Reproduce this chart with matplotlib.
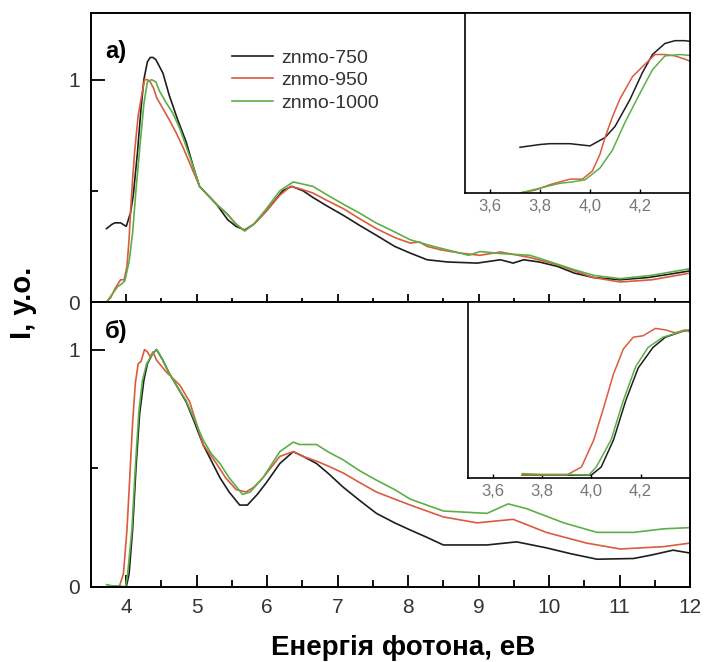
import matplotlib.pyplot as plt
from matplotlib.ticker import MultipleLocator, FuncFormatter

plt.rcParams['font.family'] = ['Liberation Sans', 'DejaVu Sans']

labels = ['znmo-750', 'znmo-950', 'znmo-1000']
colors = ['#1e1e1e', '#dc5a3e', '#5caf46']

# panel a)
a750_x = [3.72, 3.76, 3.80, 3.84, 3.92, 4.00, 4.06, 4.10, 4.16, 4.21, 4.25, 4.30, 4.34, 4.38, 4.42,
          4.52, 4.61, 4.73, 4.85, 4.96, 5.04, 5.16, 5.28, 5.44, 5.56, 5.68, 5.81, 5.99, 6.22, 6.35,
          6.51, 6.65, 6.86, 7.08, 7.31, 7.55, 7.81, 8.03, 8.27, 8.56, 8.98, 9.31, 9.49, 9.64, 9.86,
          10.12, 10.36, 10.63, 11.01, 11.40, 11.71, 12.0]
a750_y = [0.33, 0.34, 0.35, 0.356, 0.356, 0.34, 0.40, 0.48, 0.675, 0.87, 1.0, 1.08, 1.10, 1.10, 1.09,
          1.03, 0.93, 0.82, 0.72, 0.60, 0.52, 0.48, 0.44, 0.37, 0.34, 0.324, 0.35, 0.41, 0.50, 0.52,
          0.50, 0.47, 0.43, 0.39, 0.345, 0.30, 0.25, 0.22, 0.19, 0.18, 0.175, 0.19, 0.175, 0.19, 0.18,
          0.16, 0.13, 0.11, 0.10, 0.11, 0.125, 0.14]

a950_x = [3.72, 3.78, 3.84, 3.88, 3.92, 3.97, 4.01, 4.04, 4.06, 4.09, 4.12, 4.17, 4.22, 4.26, 4.30,
          4.34, 4.39, 4.43, 4.52, 4.61, 4.71, 4.80, 4.92, 5.04, 5.16, 5.28, 5.42, 5.56, 5.68, 5.81,
          5.99, 6.18, 6.33, 6.46, 6.65, 6.86, 7.08, 7.31, 7.55, 7.81, 8.03, 8.16, 8.27, 8.46, 8.74,
          9.02, 9.31, 9.73, 10.12, 10.36, 10.63, 11.01, 11.46, 12.0]
a950_y = [0.0, 0.02, 0.06, 0.08, 0.10, 0.10, 0.16, 0.28, 0.40, 0.55, 0.68, 0.84, 0.93, 1.0, 1.0,
          0.99, 0.96, 0.92, 0.87, 0.82, 0.76, 0.70, 0.61, 0.52, 0.48, 0.44, 0.40, 0.35, 0.32, 0.35,
          0.41, 0.48, 0.52, 0.51, 0.49, 0.455, 0.42, 0.375, 0.33, 0.29, 0.265, 0.27, 0.25, 0.235, 0.22,
          0.21, 0.225, 0.20, 0.167, 0.14, 0.11, 0.09, 0.10, 0.13]

a1000_x = [3.72, 3.80, 3.88, 3.93, 3.98, 4.04, 4.09, 4.14, 4.20, 4.25, 4.30, 4.36, 4.42, 4.47, 4.56,
           4.66, 4.76, 4.85, 4.96, 5.04, 5.16, 5.28, 5.42, 5.56, 5.68, 5.81, 5.99, 6.18, 6.37, 6.51,
           6.65, 6.86, 7.08, 7.31, 7.55, 7.81, 8.03, 8.36, 8.74, 8.86, 9.02, 9.31, 9.73, 10.12, 10.36,
           10.63, 11.01, 11.46, 12.0]
a1000_y = [0.0, 0.035, 0.07, 0.08, 0.095, 0.18, 0.31, 0.51, 0.72, 0.89, 0.99, 1.0, 0.99, 0.95, 0.90,
           0.85, 0.78, 0.70, 0.60, 0.52, 0.48, 0.44, 0.40, 0.35, 0.32, 0.35, 0.42, 0.50, 0.54, 0.53,
           0.52, 0.48, 0.44, 0.40, 0.355, 0.315, 0.28, 0.25, 0.22, 0.21, 0.227, 0.218, 0.21, 0.17, 0.145,
           0.12, 0.105, 0.12, 0.15]

# panel б)
b750_x = [3.72, 3.90, 4.00, 4.04, 4.09, 4.14, 4.19, 4.25, 4.30, 4.37, 4.43, 4.51, 4.61, 4.73, 4.85,
          4.96, 5.09, 5.21, 5.33, 5.46, 5.61, 5.72, 5.86, 5.99, 6.18, 6.37, 6.51, 6.70, 6.86, 7.08,
          7.31, 7.55, 7.81, 8.03, 8.26, 8.50, 8.76, 9.12, 9.54, 9.96, 10.31, 10.68, 11.20, 11.46,
          11.76, 12.0]
b750_y = [0.0, 0.0, 0.0, 0.055, 0.24, 0.51, 0.73, 0.87, 0.94, 0.98, 1.0, 0.96, 0.90, 0.84, 0.78,
          0.70, 0.60, 0.53, 0.46, 0.40, 0.345, 0.345, 0.39, 0.44, 0.52, 0.57, 0.55, 0.52, 0.48, 0.42,
          0.365, 0.31, 0.27, 0.24, 0.21, 0.177, 0.177, 0.177, 0.19, 0.165, 0.14, 0.117, 0.12, 0.135,
          0.155, 0.143]

b950_x = [3.72, 3.90, 3.96, 4.01, 4.05, 4.09, 4.13, 4.17, 4.21, 4.26, 4.30, 4.34, 4.38, 4.43, 4.57,
          4.76, 4.90, 5.09, 5.28, 5.41, 5.56, 5.70, 5.81, 5.94, 6.18, 6.37, 6.51, 6.70, 6.86, 7.08,
          7.31, 7.55, 7.81, 8.03, 8.50, 8.98, 9.49, 9.96, 10.53, 11.01, 11.63, 12.0]
b950_y = [0.0, 0.0, 0.055, 0.24, 0.46, 0.69, 0.86, 0.94, 0.95, 1.0, 0.99, 0.97, 0.99, 0.955, 0.905,
          0.85, 0.78, 0.60, 0.52, 0.46, 0.41, 0.40, 0.42, 0.46, 0.55, 0.57, 0.55, 0.53, 0.51, 0.48,
          0.44, 0.40, 0.37, 0.345, 0.295, 0.27, 0.285, 0.23, 0.185, 0.16, 0.17, 0.185]

b1000_x = [3.72, 3.80, 3.90, 3.99, 4.02, 4.08, 4.13, 4.18, 4.23, 4.29, 4.37, 4.43, 4.51, 4.61, 4.73,
           4.85, 4.96, 5.09, 5.21, 5.33, 5.46, 5.65, 5.76, 5.94, 6.18, 6.37, 6.46, 6.56, 6.70, 6.86,
           7.08, 7.31, 7.55, 7.81, 8.03, 8.50, 9.12, 9.42, 9.68, 10.21, 10.68, 11.20, 11.63, 12.0]
b1000_y = [0.01, 0.005, 0.005, 0.0, 0.055, 0.24, 0.51, 0.74, 0.87, 0.94, 0.98, 1.0, 0.96, 0.90, 0.84,
           0.785, 0.71, 0.62, 0.56, 0.52, 0.46, 0.39, 0.40, 0.46, 0.57, 0.61, 0.60, 0.60, 0.60, 0.57,
           0.535, 0.49, 0.45, 0.41, 0.37, 0.32, 0.31, 0.35, 0.33, 0.27, 0.23, 0.23, 0.245, 0.25]

series_a = [(a750_x, a750_y), (a950_x, a950_y), (a1000_x, a1000_y)]
series_b = [(b750_x, b750_y), (b950_x, b950_y), (b1000_x, b1000_y)]

tick_col = '#333333'
comma = FuncFormatter(lambda v, p: f'{v:.1f}'.replace('.', ','))

fig = plt.figure(figsize=(7.06, 6.62), dpi=100)
ax_a = fig.add_axes([0.1289, 0.5438, 0.8484, 0.4366])
ax_b = fig.add_axes([0.1289, 0.1133, 0.8484, 0.4305])

for ax, series, ytop in [(ax_a, series_a, 1.30), (ax_b, series_b, 1.20)]:
    for (x, y), c, lab in zip(series, colors, labels):
        ax.plot(x, y, color=c, lw=1.2, label=lab)
    ax.set_xlim(3.5, 12.0)
    ax.set_ylim(0, ytop)
    ax.xaxis.set_major_locator(MultipleLocator(1))
    ax.xaxis.set_minor_locator(MultipleLocator(0.5))
    ax.set_yticks([0, 1])
    ax.yaxis.set_minor_locator(MultipleLocator(0.5))
    ax.tick_params(axis='y', which='major', direction='in', length=10, width=1.3,
                   labelsize=15, labelcolor=tick_col, pad=8)
    ax.tick_params(axis='y', which='minor', direction='in', length=5, width=1.3)
    for s in ax.spines.values():
        s.set_linewidth(1.4)

ax_a.tick_params(axis='x', which='major', direction='inout', length=12, width=1.3, labelbottom=False)
ax_a.tick_params(axis='x', which='minor', direction='inout', length=6, width=1.3)
ax_b.tick_params(axis='x', which='major', direction='in', length=9, width=1.3,
                 labelsize=15, labelcolor=tick_col, pad=8)
ax_b.tick_params(axis='x', which='minor', direction='in', length=5, width=1.3)

ax_a.text(0.023, 0.865, 'а)', transform=ax_a.transAxes, fontsize=17, fontweight='bold',
          va='center', ha='left')
ax_b.text(0.023, 0.895, 'б)', transform=ax_b.transAxes, fontsize=17, fontweight='bold',
          va='center', ha='left')

ax_a.legend(loc='upper left', bbox_to_anchor=(0.235, 0.875), frameon=False, fontsize=14,
            handlelength=2.1, handletextpad=0.45, labelspacing=0.25, borderpad=0,
            borderaxespad=0, labelcolor=tick_col)

# insets
ins_a = fig.add_axes([0.6586, 0.7085, 0.3187, 0.2719])
ins_b = fig.add_axes([0.6629, 0.2779, 0.3144, 0.2659])
for ins, series, ylim in [(ins_a, series_a, (0, 1.3)), (ins_b, series_b, (-0.02, 1.18))]:
    for (x, y), c in zip(series, colors):
        ins.plot(x, y, color=c, lw=1.1)
    ins.set_xlim(3.5, 4.4)
    ins.set_ylim(*ylim)
    ins.set_xticks([3.6, 3.8, 4.0, 4.2])
    ins.xaxis.set_major_formatter(comma)
    ins.set_yticks([])
    ins.tick_params(axis='x', direction='in', length=3, width=1, labelsize=12,
                    labelcolor='#777777', pad=4)
    for s in ins.spines.values():
        s.set_linewidth(1.2)

fig.text(23 / 706, 1 - 303 / 662, 'I, у.о.', rotation=90, ha='center', va='center',
         fontsize=21, fontweight='bold')
fig.text(403 / 706, 1 - 648 / 662, 'Енергія фотона, еВ', ha='center', va='center',
         fontsize=20, fontweight='bold')

fig.savefig('out.png', dpi=100)
